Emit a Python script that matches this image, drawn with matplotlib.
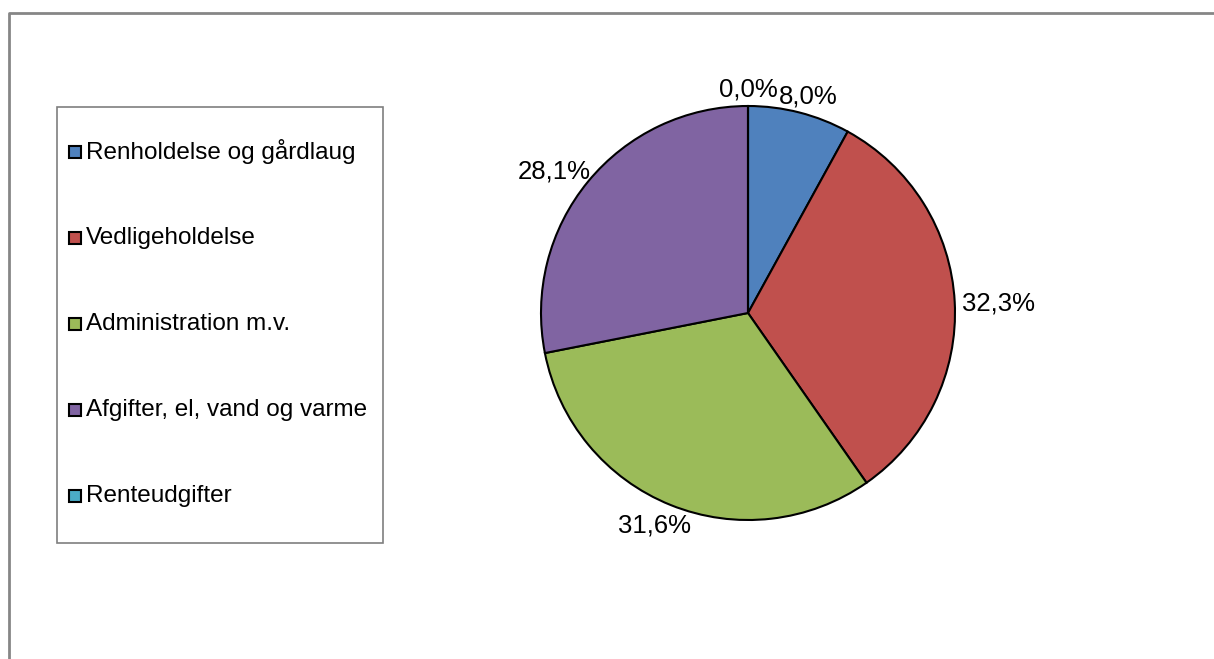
import numpy as np
import matplotlib
matplotlib.use("Agg")
import matplotlib.pyplot as plt
from matplotlib.patches import Rectangle
from matplotlib.lines import Line2D

plt.rcParams["font.family"] = ["Liberation Sans", "DejaVu Sans"]

# ---- data ----
categories = ["Renholdelse og gårdlaug", "Vedligeholdelse", "Administration m.v.",
              "Afgifter, el, vand og varme", "Renteudgifter"]
shares = [8.0, 32.3, 31.6, 28.1, 0.0]
colors = ["#4F81BD", "#C0504D", "#9BBB59", "#8064A2", "#4BACC6"]

W, H = 1214, 659
fig = plt.figure(figsize=(W / 100, H / 100), dpi=100)
fig.patch.set_facecolor("white")


def fx(x):
    return x / W


def fy(y):
    return 1 - y / H


# outer chart border (only left/top visible in the source)
fig.add_artist(Line2D([fx(8.5), fx(8.5), fx(1213)], [fy(659), fy(12.5), fy(12.5)],
                      color="#868686", lw=2, transform=fig.transFigure))

# ---- pie ----
cx, cy, R = 748, 313, 207
ax = fig.add_axes([fx(cx - R), fy(cy + R), 2 * R / W, 2 * R / H])
wedges, _ = ax.pie(shares, colors=colors, startangle=90, counterclock=False,
                   wedgeprops=dict(edgecolor="black", linewidth=1.5))
ax.set_xlim(-1, 1)
ax.set_ylim(-1, 1)
ax.set_aspect("equal")
ax.axis("off")

FS_LEG, FS_LAB = 17.5, 18.5
labels = []
for w, v in zip(wedges, shares):
    th = np.deg2rad((w.theta1 + w.theta2) / 2)
    t = ax.text(np.cos(th), np.sin(th), f"{v:.1f}%".replace(".", ","), size=FS_LAB,
                ha="center", va="center_baseline", color="black", clip_on=False)
    labels.append((t, th))

# push each label just outside the rim, clear of its own extent
fig.canvas.draw()
rend = fig.canvas.get_renderer()
gap = 7
for t, th in labels:
    bb = t.get_window_extent(rend)
    bw, bh = bb.width, bb.height
    px = cx + (R + gap) * np.cos(th) + bw / 2 * np.cos(th)
    py = cy - (R + gap) * np.sin(th) - bh / 2 * np.sin(th)
    t.set_transform(fig.transFigure)
    t.set_position((fx(px), fy(py)))

# ---- legend (drawn as in the source: tall box, widely spaced rows) ----
fig.add_artist(Rectangle((fx(56.5), fy(543)), (383 - 56.5) / W, (543 - 107) / H,
                         transform=fig.transFigure, facecolor="white",
                         edgecolor="#7f7f7f", lw=1.2))
row0, pitch, sq = 152, 86, 12.5
for i, (name, c) in enumerate(zip(categories, colors)):
    yc = row0 + i * pitch
    fig.add_artist(Rectangle((fx(68.5), fy(yc + sq / 2)), sq / W, sq / H,
                             transform=fig.transFigure, facecolor=c,
                             edgecolor="black", lw=1.5))
    fig.text(fx(86), fy(yc), name, size=FS_LEG, ha="left", va="center", color="black")

fig.savefig("out.png", dpi=100, facecolor="white")
